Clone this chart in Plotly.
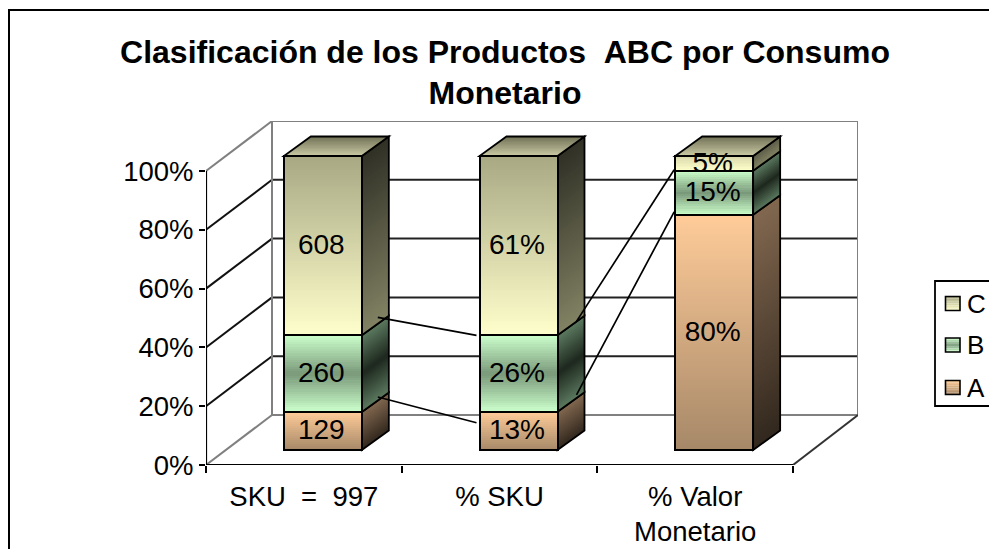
import plotly.graph_objects as go

# ---------- data ----------
categories = ["SKU\u00a0\u00a0=\u00a0\u00a0997", "%\u00a0SKU", "%\u00a0Valor<br>Monetario"]
series_names = ["A", "B", "C"]
values_a = [129, 13, 80]
values_b = [260, 26, 15]
values_c = [608, 61, 5]
label_a = ["129", "13%", "80%"]
label_b = ["260", "26%", "15%"]
label_c = ["608", "61%", "5%"]
y_ticks = [0, 20, 40, 60, 80, 100]

# ---------- geometry (pixels of the frame) ----------
W, H = 989, 549
PL, PR, PT, PB = 206, 858, 121, 465      # plot area
UX = (793 - 206) / 3                     # px per category
UY = 294 / 100                           # px per percent
x_max = (PR - PL) / UX
y_max = (PB - PT) / UY
dx = lambda px: px / UX
dy = lambda px: px / UY
WALL_X, WALL_Y = dx(66), dy(50)          # wall depth
BAR_SX, BAR_SY = dx(19), dy(15)          # bar's front plane shift
BAR_DX, BAR_DY = dx(27), dy(19.5)        # bar depth
BAR_W = dx(78)


def lerp(c1, c2, t):
    return tuple(c1[i] + (c2[i] - c1[i]) * t for i in range(3))


def css(c):
    return "rgb(%d,%d,%d)" % tuple(round(v) for v in c)


# gradient stops from top (t=0) to bottom (t=1)
FRONT = {
    "C": [(0, (168, 168, 132)), (1, (255, 255, 204))],
    "B": [(0, (204, 255, 204)), (0.5, (122, 153, 122)), (1, (204, 255, 204))],
    "A": [(0, (255, 204, 153)), (1, (166, 136, 104))],
}
SIDE = {
    "C": [(0, (48, 48, 38)), (1, (130, 130, 100))],
    "B": [(0, (92, 122, 96)), (0.5, (30, 40, 30)), (1, (92, 122, 96))],
    "A": [(0, (130, 104, 80)), (1, (50, 40, 30))],
}
TOP = [(0, (112, 112, 86)), (1, (202, 202, 165))]  # back to front
SWATCH = {k: FRONT[k] for k in FRONT}


def grad(stops, t):
    for (t0, c0), (t1, c1) in zip(stops, stops[1:]):
        if t <= t1:
            return lerp(c0, c1, (t - t0) / (t1 - t0))
    return stops[-1][1]


series = {"A": values_a, "B": values_b, "C": values_c}
labels = {"A": label_a, "B": label_b, "C": label_c}
totals = [values_a[i] + values_b[i] + values_c[i] for i in range(3)]

shapes = []


def path_shape(pts, fill=None, line=None, width=0, layer="below"):
    d = "M" + " L".join(f"{x:.4f},{y:.4f}" for x, y in pts) + " Z"
    return dict(type="path", path=d, layer=layer, fillcolor=fill or "rgba(0,0,0,0)",
                line=dict(color=line or "rgba(0,0,0,0)", width=width))


def seg(x0, y0, x1, y1, color, width, layer="below"):
    shapes.append(dict(type="line", x0=x0, y0=y0, x1=x1, y1=y1, layer=layer,
                       line=dict(color=color, width=width)))


# ---------- walls and grid ----------
GRAY = "#808080"
for t in y_ticks[1:-1]:
    seg(0, t, WALL_X, t + WALL_Y, "#111111", 2)
    seg(WALL_X, t + WALL_Y, x_max, t + WALL_Y, "#222222", 2)
seg(WALL_X, WALL_Y, WALL_X, 100 + WALL_Y, GRAY, 2)
seg(x_max, WALL_Y, x_max, 100 + WALL_Y, GRAY, 2)
seg(WALL_X, 100 + WALL_Y, x_max, 100 + WALL_Y, GRAY, 2)
seg(WALL_X, WALL_Y, x_max, WALL_Y, GRAY, 2)
seg(0, 100, WALL_X, 100 + WALL_Y, GRAY, 2)
seg(0, 0, WALL_X, WALL_Y, GRAY, 2)
seg(3, 0, x_max, WALL_Y, "#333333", 2)
seg(0, 0, 0, 100, "black", 2.2)
seg(0, 0, 3, 0, "black", 2.2)

# ---------- bars ----------
bar_x, bar_base, bar_h, bar_col = [], [], [], []
out_x, out_base, out_h = [], [], []
connect = {}
text_x, text_y, text_s = [], [], []
OVER = dy(2)  # each slice runs under the next one so no seam shows

for i in range(3):
    xl = i + 0.5 + BAR_SX - BAR_W / 2
    xr = xl + BAR_W
    xc = xl + BAR_W / 2
    cum = 0.0
    for name in series_names:
        pct = series[name][i] / totals[i] * 100
        lo = cum + BAR_SY
        hi = cum + pct + BAR_SY
        g0 = 0.55 if pct < 8 else 0.0   # a very thin segment shows a light band only
        n_slice = int(pct * UY / 2.5) + 4
        # faces, painted top to bottom
        for k in range(n_slice):
            t0, t1 = k / n_slice, (k + 1) / n_slice
            yt = hi - (hi - lo) * t0
            yb = hi - (hi - lo) * t1
            tm = g0 + (1 - g0) * (t0 + t1) / 2
            yb_o = max(lo, yb - OVER)
            shapes.append(path_shape(
                [(xr, yb_o), (xr + BAR_DX, yb_o + BAR_DY), (xr + BAR_DX, yt + BAR_DY), (xr, yt)],
                fill=css(grad(SIDE[name], tm))))
            bar_x.append(xc)
            bar_base.append(yb_o)
            bar_h.append(yt - yb_o)
            bar_col.append(css(grad(FRONT[name], tm)))
        shapes.append(path_shape(
            [(xr, lo), (xr + BAR_DX, lo + BAR_DY), (xr + BAR_DX, hi + BAR_DY), (xr, hi)],
            line="black", width=1.8))
        out_x.append(xc)
        out_base.append(lo)
        out_h.append(hi - lo)
        text_x.append(xc - dx(1.5))
        text_y.append((lo + hi) / 2 - dy(1.5))
        text_s.append(labels[name][i])
        cum += pct
        connect[(i, name)] = cum + BAR_SY
    # top face, painted back to front
    top = cum + BAR_SY
    n_top = 14
    for k in range(n_top):
        t0, t1 = k / n_top, (k + 1) / n_top
        a, b = 1 - t0, max(0, 1 - t1 - 0.1)
        shapes.append(path_shape(
            [(xl + BAR_DX * a, top + BAR_DY * a), (xr + BAR_DX * a, top + BAR_DY * a),
             (xr + BAR_DX * b, top + BAR_DY * b), (xl + BAR_DX * b, top + BAR_DY * b)],
            fill=css(grad(TOP, (t0 + t1) / 2))))
    shapes.append(path_shape(
        [(xl, top), (xr, top), (xr + BAR_DX, top + BAR_DY), (xl + BAR_DX, top + BAR_DY)],
        line="black", width=1.8))

fig = go.Figure()
fig.add_trace(go.Bar(x=bar_x, y=bar_h, base=bar_base, width=BAR_W,
                     marker=dict(color=bar_col, line=dict(width=0)),
                     showlegend=False, hoverinfo="skip"))
fig.add_trace(go.Bar(x=out_x, y=out_h, base=out_base, width=BAR_W,
                     marker=dict(color="rgba(0,0,0,0)", line=dict(color="black", width=2)),
                     showlegend=False, hoverinfo="skip"))

# ---------- series lines ----------
bar_right = lambda i: i + 0.5 + BAR_SX + BAR_W / 2
bar_left = lambda i: i + 0.5 + BAR_SX - BAR_W / 2
links = [
    (0, "B", 16, 18, -3, 0),
    (0, "A", 16, 15, -3, -11),
    (1, "B", 19, 14, -1, 1),
    (1, "A", 19, 17, -1, 3),
]
for i, name, ox, oy, ex, ey in links:
    fig.add_trace(go.Scatter(
        x=[bar_right(i) + dx(ox), bar_left(i + 1) + dx(ex)],
        y=[connect[(i, name)] + dy(oy), connect[(i + 1, name)] + dy(ey)],
        mode="lines", line=dict(color="black", width=1.7),
        showlegend=False, hoverinfo="skip"))

# ---------- data labels ----------
FONT = "Liberation Sans, Arial, sans-serif"
fig.add_trace(go.Scatter(x=text_x, y=text_y, text=text_s, mode="text",
                         textposition="middle center",
                         textfont=dict(family=FONT, size=28, color="black"),
                         showlegend=False, hoverinfo="skip"))

# ---------- frame (clipped by the window at right and bottom) ----------
shapes.append(dict(type="rect", xref="paper", yref="paper",
                   x0=(9 - PL) / (PR - PL), x1=(W + 20 - PL) / (PR - PL),
                   y0=(PB - H - 20) / (PB - PT), y1=(PB - 10) / (PB - PT),
                   line=dict(color="black", width=2), layer="below"))

# ---------- legend ----------
px2x = lambda p: (p - PL) / (PR - PL)
px2y = lambda p: (PB - p) / (PB - PT)
shapes.append(dict(type="rect", xref="paper", yref="paper",
                   x0=px2x(935), x1=px2x(W + 20), y0=px2y(406), y1=px2y(281),
                   fillcolor="white", line=dict(color="black", width=1.8), layer="above"))
annotations = []
for name, yc in zip(["C", "B", "A"], [303.5, 345, 387.5]):
    n = 8
    for k in range(n):
        shapes.append(dict(type="rect", xref="paper", yref="paper", layer="above",
                           x0=px2x(945.5), x1=px2x(960),
                           y0=px2y(yc - 7 + 14 * k / n), y1=px2y(yc - 7 + 14 * (k + 1) / n),
                           fillcolor=css(grad(SWATCH[name], (k + .5) / n)), line=dict(width=0)))
    shapes.append(dict(type="rect", xref="paper", yref="paper", layer="above",
                       x0=px2x(945.5), x1=px2x(960), y0=px2y(yc - 7), y1=px2y(yc + 7),
                       line=dict(color="black", width=1.6)))
    annotations.append(dict(xref="paper", yref="paper", x=px2x(965), y=px2y(yc),
                            xanchor="left", yanchor="middle", text=name, showarrow=False,
                            font=dict(family=FONT, size=26, color="black")))

fig.update_layout(
    width=W, height=H, autosize=False,
    margin=dict(l=PL, r=W - PR, t=PT, b=H - PB, pad=0, autoexpand=False),
    paper_bgcolor="white", plot_bgcolor="white",
    barmode="overlay", bargap=0,
    shapes=shapes, annotations=annotations, showlegend=False,
    title=dict(text="<b>Clasificación de los Productos\u00a0\u00a0ABC por Consumo<br>Monetario</b>",
               x=505 / W, xref="container", xanchor="center",
               y=1 - 62.5 / H, yref="container", yanchor="top",
               font=dict(family=FONT, size=32, color="black")),
    xaxis=dict(range=[0, x_max], tickmode="array", tickvals=[0.5, 1.5, 2.5], ticktext=categories,
               ticks="", showgrid=False, zeroline=False, showline=False,
               ticklabelstandoff=12,
               tickfont=dict(family=FONT, size=27.5, color="black"),
               minor=dict(tickmode="array", tickvals=[0, 1, 2, 3], ticks="outside", ticklen=7,
                          tickwidth=2, tickcolor="black", showgrid=False)),
    yaxis=dict(range=[0, y_max], tickmode="array", tickvals=y_ticks,
               ticktext=[f"{v}%" for v in y_ticks],
               ticks="outside", ticklen=6, tickwidth=2, tickcolor="black",
               showgrid=False, zeroline=False, showline=False,
               tickfont=dict(family=FONT, size=27.5, color="black")),
)

fig.write_html("out.html", config={"displayModeBar": False},
               post_script="document.body.style.margin='0';document.documentElement.style.overflow='hidden';window.dispatchEvent(new Event('resize'));")
